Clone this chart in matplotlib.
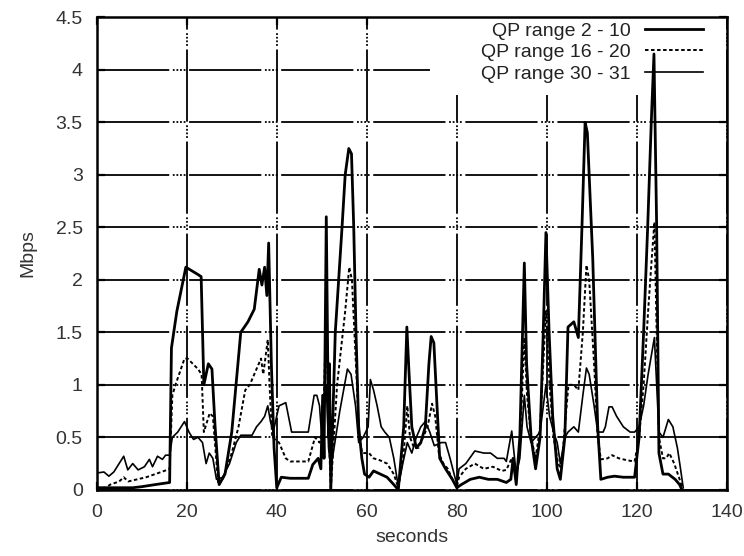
import matplotlib
matplotlib.use("Agg")
import matplotlib.pyplot as plt
from matplotlib.patches import Rectangle
from matplotlib.ticker import FormatStrFormatter

plt.rcParams['font.family'] = ['Liberation Sans', 'DejaVu Sans']

# QP range 2 - 10 (thick solid)
t_a = [0, 4, 8, 10, 13, 16.2, 16.6, 17.8, 19.8, 22.5, 23.2, 23.8, 24.8, 25.6, 26.3, 27.2,
       28.5, 30, 32, 33.6, 35, 36.1, 36.7, 37.3, 37.8, 38.2, 38.8, 39.4, 40,
       41, 43, 47, 48, 49.2, 49.8, 50.2, 50.5, 51, 51.5, 51.7, 52,
       53, 54.5, 55.2, 56, 56.6, 57.1, 57.6, 58.2, 58.9, 59.5,
       60.5, 61.5, 63, 64.5, 66, 67, 68.2, 68.9, 69.4, 70, 71, 72, 73, 73.8, 74.3, 74.9,
       75.6, 76.2, 77.5, 79, 80, 81, 83, 85, 87, 89, 91, 92, 92.5, 93.2, 94, 95, 95.5,
       96.5, 97.5, 98.5, 99.2, 99.8, 100.5, 101.3, 102.3, 103, 104, 104.7, 106, 107,
       107.8, 108.5, 109, 110.2, 111.3, 112, 113.5, 115, 117, 119.5, 120.5, 121.5,
       122.4, 123.2, 123.8, 124.4, 124.9, 125.8, 127, 128.5, 129.5, 130]
v_a = [0.02, 0.02, 0.02, 0.03, 0.05, 0.07, 1.35, 1.7, 2.12, 2.05, 2.03, 1.0, 1.2, 1.15, 0.6, 0.05,
       0.15, 0.55, 1.5, 1.6, 1.72, 2.1, 1.95, 2.12, 1.85, 2.35, 1.2, 0.4, 0.02,
       0.12, 0.11, 0.11, 0.24, 0.3, 0.2, 0.9, 0.3, 2.6, 0.5, 1.2, 0.0,
       1.5, 2.5, 3.0, 3.25, 3.2, 2.5, 1.5, 0.6, 0.3, 0.15,
       0.12, 0.18, 0.15, 0.12, 0.05, 0.0, 0.6, 1.55, 1.1, 0.6, 0.4, 0.45, 0.6, 1.2, 1.46, 1.4,
       0.8, 0.3, 0.2, 0.1, 0.02, 0.05, 0.1, 0.12, 0.1, 0.1, 0.07, 0.1, 0.3, 0.05, 0.5, 2.16, 1.2,
       0.5, 0.2, 0.5, 1.5, 2.45, 1.5, 0.7, 0.2, 0.1, 0.5, 1.55, 1.6, 1.45,
       2.5, 3.5, 3.4, 2.2, 0.6, 0.1, 0.12, 0.13, 0.12, 0.12, 0.5, 1.5,
       2.5, 3.5, 4.15, 2.5, 0.35, 0.15, 0.15, 0.1, 0.05, 0.0]

# QP range 16 - 20 (dotted)
t_b = [0, 2, 3, 5, 6, 7, 9, 11, 13, 15, 16.2, 16.8, 17.5, 19.5, 20.2, 22.5, 23.3, 23.8,
       25.1, 25.8, 27, 28, 30, 31.5, 33, 34, 35, 36, 36.5, 37, 38, 38.5, 39, 40.5, 42, 43,
       47, 48.5, 49.5, 50.3, 51, 51.6, 52, 53.4, 55.2, 56.1, 56.7, 57.8, 58.3, 59, 60.5,
       61.5, 63, 64.5, 66, 67, 68.2, 69, 69.6, 70.5, 71.5, 72.5, 73.5, 74.5, 75.2, 76, 77,
       78, 79, 80, 80.5, 82, 84, 86, 88, 90, 91, 92.2, 93.2, 94, 95, 95.6, 96.5, 97.5, 98.5,
       99.8, 100.6, 101.5, 102.5, 103.2, 104, 104.8, 106, 107, 108, 108.8, 109.4, 110.5,
       111.3, 112, 113.5, 114.5, 116, 118, 119.5, 120.5, 121.5, 122.5, 123.3, 123.9, 124.4,
       124.9, 125.8, 126.5, 127.2, 128.3, 129.5, 130.2]
v_b = [0.02, 0.02, 0.05, 0.08, 0.12, 0.08, 0.1, 0.12, 0.15, 0.18, 0.2, 0.9, 1.0, 1.25, 1.25, 1.15, 1.1, 0.55,
       0.73, 0.7, 0.05, 0.1, 0.35, 0.6, 0.95, 1.0, 1.1, 1.2, 1.25, 1.1, 1.43, 0.9, 0.5, 0.45, 0.3, 0.27,
       0.27, 0.5, 0.45, 0.6, 1.7, 0.5, 0.0, 1.0, 1.7, 2.12, 2.0, 1.0, 0.5, 0.35, 0.35,
       0.3, 0.28, 0.25, 0.15, 0.02, 0.35, 0.8, 0.5, 0.4, 0.4, 0.5, 0.6, 0.82, 0.7, 0.35, 0.25,
       0.2, 0.1, 0.03, 0.12, 0.2, 0.25, 0.2, 0.22, 0.18, 0.19, 0.3, 0.1, 0.4, 1.45, 0.9, 0.5, 0.3, 0.6,
       1.7, 1.0, 0.5, 0.25, 0.2, 0.6, 1.0, 1.0, 0.95, 1.5, 2.14, 2.0, 1.2,
       0.5, 0.29, 0.3, 0.33, 0.3, 0.28, 0.27, 0.5, 1.0, 1.7, 2.2, 2.55, 1.5,
       0.5, 0.3, 0.3, 0.35, 0.25, 0.1, 0.0]

# QP range 30 - 31 (thin solid)
t_c = [0, 1.6, 2.7, 3.8, 6, 6.9, 8, 9.2, 10.6, 11.7, 12.4, 13.5, 14.6, 15.3, 16.2, 16.8,
       18, 19.5, 20.5, 21.5, 22.5, 23.5, 24.3, 25, 25.8, 26.6, 28, 29.5, 31, 32, 34.5, 35.5,
       36.5, 37.3, 38, 38.6, 39.2, 40.5, 42, 43.3, 47, 48.3, 48.9, 49.5, 50, 51, 51.5, 52,
       54, 55.7, 56.5, 57.5, 58.2, 59.2, 60.3, 60.8, 61.5, 62.3, 63.2, 64, 65, 66, 67,
       68, 69, 70, 71, 72, 73, 74, 75, 76.5, 77.5, 78.5, 80, 80.5, 82, 84, 86, 87.5, 89,
       90.5, 91, 92.2, 93.2, 94, 95, 95.6, 96.5, 97.5, 98.5, 99.8, 100.6, 101.5, 102.3, 103,
       104, 104.7, 106, 107, 108, 108.8, 109.4, 110.5, 111.3, 112.5, 113, 113.8, 114.5,
       115.5, 117, 118.5, 119.5, 120.5, 121.5, 122.5, 123.3, 123.9, 124.4, 124.9, 125.8,
       127, 128, 129, 129.7, 130.3]
v_c = [0.16, 0.17, 0.13, 0.17, 0.32, 0.19, 0.25, 0.19, 0.22, 0.29, 0.22, 0.32, 0.29, 0.33, 0.33, 0.5,
       0.55, 0.65, 0.55, 0.48, 0.5, 0.45, 0.25, 0.35, 0.3, 0.1, 0.12, 0.25, 0.45, 0.52, 0.52, 0.6,
       0.65, 0.7, 0.8, 0.65, 0.55, 0.8, 0.83, 0.55, 0.55, 0.9, 0.9, 0.8, 0.5, 1.0, 0.4, 0.2,
       0.75, 1.15, 1.1, 0.8, 0.45, 0.5, 0.6, 1.05, 0.95, 0.8, 0.6, 0.55, 0.5, 0.3, 0.03,
       0.25, 0.45, 0.35, 0.5, 0.6, 0.65, 0.55, 0.42, 0.45, 0.45, 0.3, 0.05, 0.2, 0.25, 0.37, 0.35, 0.35, 0.3,
       0.3, 0.27, 0.56, 0.15, 0.3, 0.9, 0.6, 0.45, 0.5, 0.55, 1.0, 0.7, 0.55, 0.45, 0.25,
       0.5, 0.55, 0.6, 0.55, 0.9, 1.16, 1.1, 0.8, 0.55, 0.55, 0.6, 0.79, 0.79,
       0.7, 0.6, 0.55, 0.55, 0.6, 0.8, 1.1, 1.3, 1.45, 1.0, 0.55, 0.5,
       0.67, 0.6, 0.4, 0.2, 0.02]

labels = ['QP range 2 - 10', 'QP range 16 - 20', 'QP range 30 - 31']

fig = plt.figure(figsize=(7.44, 5.56), dpi=100)
ax = fig.add_axes([0.130, 0.119, 0.847, 0.850])

ax.plot(t_a, v_a, color='black', lw=2.0, label=labels[0], zorder=3)
ax.plot(t_b, v_b, color='black', lw=1.4, linestyle=(0, (1.8, 1.3)), label=labels[1], zorder=3)
ax.plot(t_c, v_c, color='black', lw=1.2, label=labels[2], zorder=3)

ax.set_xlim(0, 140)
ax.set_ylim(0, 4.5)
ax.set_xticks(range(0, 141, 20))
ax.set_yticks([i * 0.5 for i in range(10)])
ax.yaxis.set_major_formatter(FormatStrFormatter('%g'))
ax.grid(True, color='black', lw=1.3, linestyle=(0, (40, 2, 1, 1, 1, 1, 1, 1, 1, 2)))
ax.set_axisbelow(True)

# white area behind the key, like gnuplot
ax.add_patch(Rectangle((0.529, 0.835), 0.47, 0.163, transform=ax.transAxes,
                       facecolor='white', edgecolor='none', zorder=1))

ax.tick_params(direction='in', top=True, right=True, length=6, width=1.6,
               labelsize=14, pad=10, colors='black', labelcolor='#333333')
for s in ax.spines.values():
    s.set_linewidth(1.8)
    s.set_zorder(4)

ax.set_xlabel('seconds', fontsize=14, color='#333333', labelpad=6)
ax.set_ylabel('Mbps', fontsize=14, color='#333333', labelpad=14)

leg = ax.legend(loc='upper right', bbox_to_anchor=(0.962, 0.99), markerfirst=False,
                frameon=False, fontsize=14, handlelength=3.0, labelspacing=0.2,
                borderaxespad=0, borderpad=0, handletextpad=0.7)
for txt in leg.get_texts():
    txt.set_ha('right')
    txt.set_color('#222222')

fig.savefig('out.png', dpi=100)
plt.close()
